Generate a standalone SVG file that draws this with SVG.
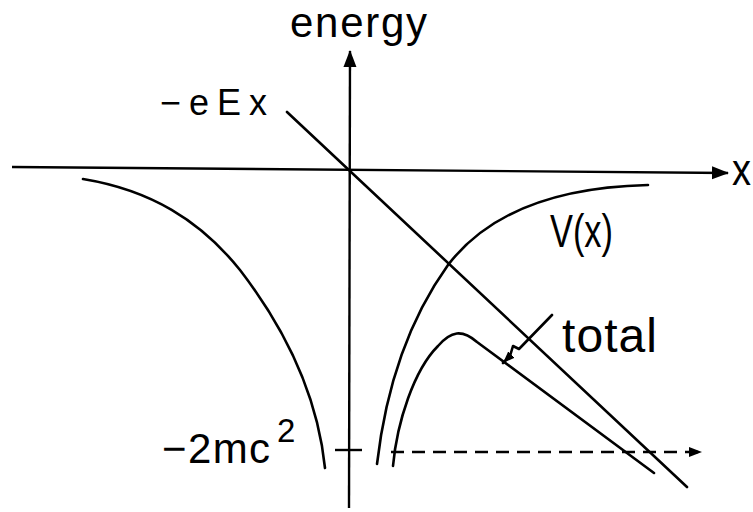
<svg xmlns="http://www.w3.org/2000/svg" width="753" height="512" viewBox="0 0 753 512">
<style>
.ln{fill:none;stroke:#000;stroke-width:2.6;stroke-linecap:round;stroke-linejoin:round}
.ax{fill:none;stroke:#000;stroke-width:2.4}
.t{font-family:"Liberation Sans",Arial,sans-serif;fill:#000}
</style>
<defs>
<marker id="ah" markerUnits="userSpaceOnUse" markerWidth="18" markerHeight="14" refX="16" refY="7" orient="auto">
<path d="M0,0.5 L17,7 L0,13.5 Z" fill="#000"/>
</marker>
<marker id="ahs" markerUnits="userSpaceOnUse" markerWidth="14" markerHeight="12" refX="13" refY="6" orient="auto">
<path d="M0,1 L13,6 L0,11 Z" fill="#000"/>
</marker>
<marker id="ahp" markerUnits="userSpaceOnUse" markerWidth="14" markerHeight="12" refX="12" refY="5" orient="auto">
<path d="M0,0.5 L12,5 L0,9.5 Z" fill="#000"/>
</marker>
</defs>
<rect width="753" height="512" fill="#fff"/>
<g id="axes">
<line class="ax" x1="12" y1="167" x2="728" y2="173" marker-end="url(#ah)"/>
<line class="ax" x1="349" y1="508" x2="350" y2="51" marker-end="url(#ah)"/>
<line class="ax" x1="335" y1="450" x2="362" y2="450"/>
</g>
<g id="curves">
<path id="eEx-line" class="ln" d="M287,112 L687,487"/>
<path id="V-left" class="ln" d="M83,179 C150,190 200,220 240,270 C290,335 318,400 325,468"/>
<path id="V-right" class="ln" d="M377,464 C385,395 405,325 448,265 C490,210 560,187 648,185"/>
<path id="total-curve" class="ln" d="M393,466 C397,422 414,370 438,346 C451,331 462,329 477,342 L654,473"/>
<path id="dashed" fill="none" stroke="#000" stroke-width="2.6" stroke-dasharray="13,8" d="M391,452 L702,452" marker-end="url(#ahs)"/>
<path id="pointer" class="ln" stroke-width="2.2" d="M552,315 L519,349 L513,346 L510,356 L503,363" marker-end="url(#ahp)"/>
</g>
<g id="labels">
<text class="t" x="290" y="37" font-size="42" textLength="137" lengthAdjust="spacing">energy</text>
<text class="t" x="160" y="115" font-size="36" textLength="107" lengthAdjust="spacing">−eEx</text>
<text class="t" x="732" y="185" font-size="44" textLength="19" lengthAdjust="spacingAndGlyphs">x</text>
<text class="t" x="550" y="247" font-size="46" textLength="63" lengthAdjust="spacingAndGlyphs">V(x)</text>
<text class="t" x="562" y="352" font-size="48" textLength="95" lengthAdjust="spacing">total</text>
<text class="t" x="162" y="463" font-size="42" textLength="108" lengthAdjust="spacing">−2mc</text>
<text class="t" x="277" y="442" font-size="33">2</text>
</g>
</svg>
